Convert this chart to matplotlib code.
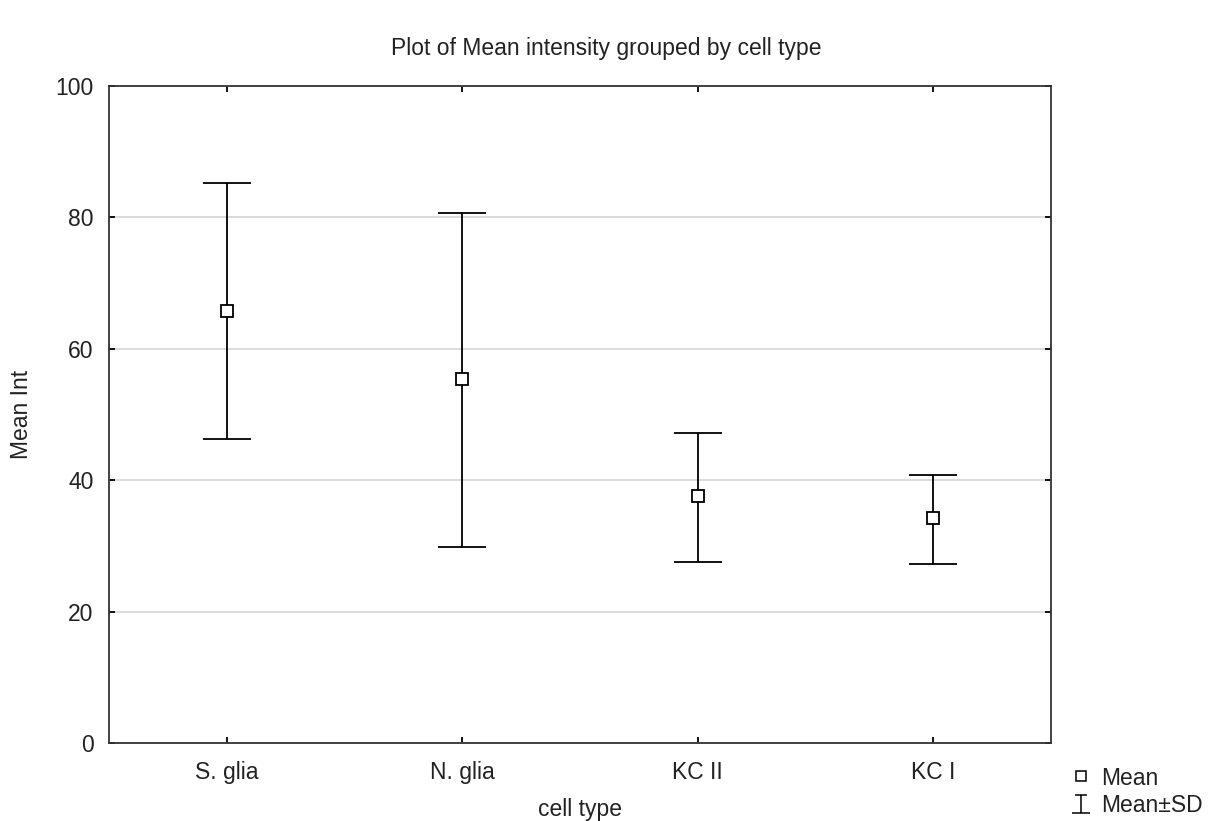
import matplotlib.pyplot as plt
from matplotlib.lines import Line2D
from matplotlib.path import Path

plt.rcParams['font.family'] = ['Liberation Sans', 'DejaVu Sans']

# data
cell_types = ["S. glia", "N. glia", "KC II", "KC I"]
means = [65.8, 55.4, 37.6, 34.2]
upper = [85.3, 80.6, 47.2, 40.8]
lower = [46.3, 29.8, 27.5, 27.3]
y_ticks = [0, 20, 40, 60, 80, 100]

fig = plt.figure(figsize=(12.13, 8.21), dpi=100)
ax = fig.add_axes([109 / 1213, 78 / 821, 942 / 1213, 657 / 821])

x = list(range(len(cell_types)))
err_lo = [m - l for m, l in zip(means, lower)]
err_hi = [u - m for m, u in zip(means, upper)]

ax.errorbar(x, means, yerr=[err_lo, err_hi], fmt='none', ecolor='black',
            elinewidth=1.3, capsize=17, capthick=1.3, zorder=3)
ax.plot(x, means, ls='none', marker='s', ms=8, mfc='white', mec='black',
        mew=1.3, zorder=4)

ax.set_xlim(-0.5, len(cell_types) - 0.5)
ax.set_ylim(0, 100)
ax.set_xticks(x)
ax.set_xticklabels(cell_types)
ax.set_yticks(y_ticks)
ax.grid(axis='y', color='#d9d9d9', lw=1.3, zorder=0)
ax.set_axisbelow(True)

ax.tick_params(direction='in', length=4, width=1.3, top=True, right=True,
               labelsize=16.5, colors='black', labelcolor='#222222', pad=11)
ax.tick_params(axis='x', pad=13)
for s in ax.spines.values():
    s.set_linewidth(1.3)
    s.set_color('#333333')

ax.set_xlabel("cell type", fontsize=16.5, labelpad=10, color='#222222')
ax.set_ylabel("Mean Int", fontsize=16.5, labelpad=16, color='#222222')
fig.suptitle("Plot of Mean intensity grouped by cell type", fontsize=16.5,
             y=0.955, color='#222222')

# I-beam marker for the Mean±SD legend entry
ibeam = Path([(-0.7, 1), (0.7, 1), (0, 1), (0, -1), (-1, -1), (1, -1)],
             [Path.MOVETO, Path.LINETO, Path.MOVETO, Path.LINETO,
              Path.MOVETO, Path.LINETO])
handles = [
    Line2D([], [], ls='none', marker='s', ms=7, mfc='white', mec='black', mew=1.1),
    Line2D([], [], ls='none', marker=ibeam, ms=13, mfc='none', mec='black', mew=1.1),
]
fig.legend(handles, ["Mean", "Mean\u00b1SD"], loc='lower right',
           bbox_to_anchor=(1.003, -0.012), frameon=False, fontsize=16.5,
           handlelength=0.8, handletextpad=0.5, labelspacing=0.2,
           borderaxespad=0.2, labelcolor='#222222')

fig.savefig("out.png", dpi=100)
